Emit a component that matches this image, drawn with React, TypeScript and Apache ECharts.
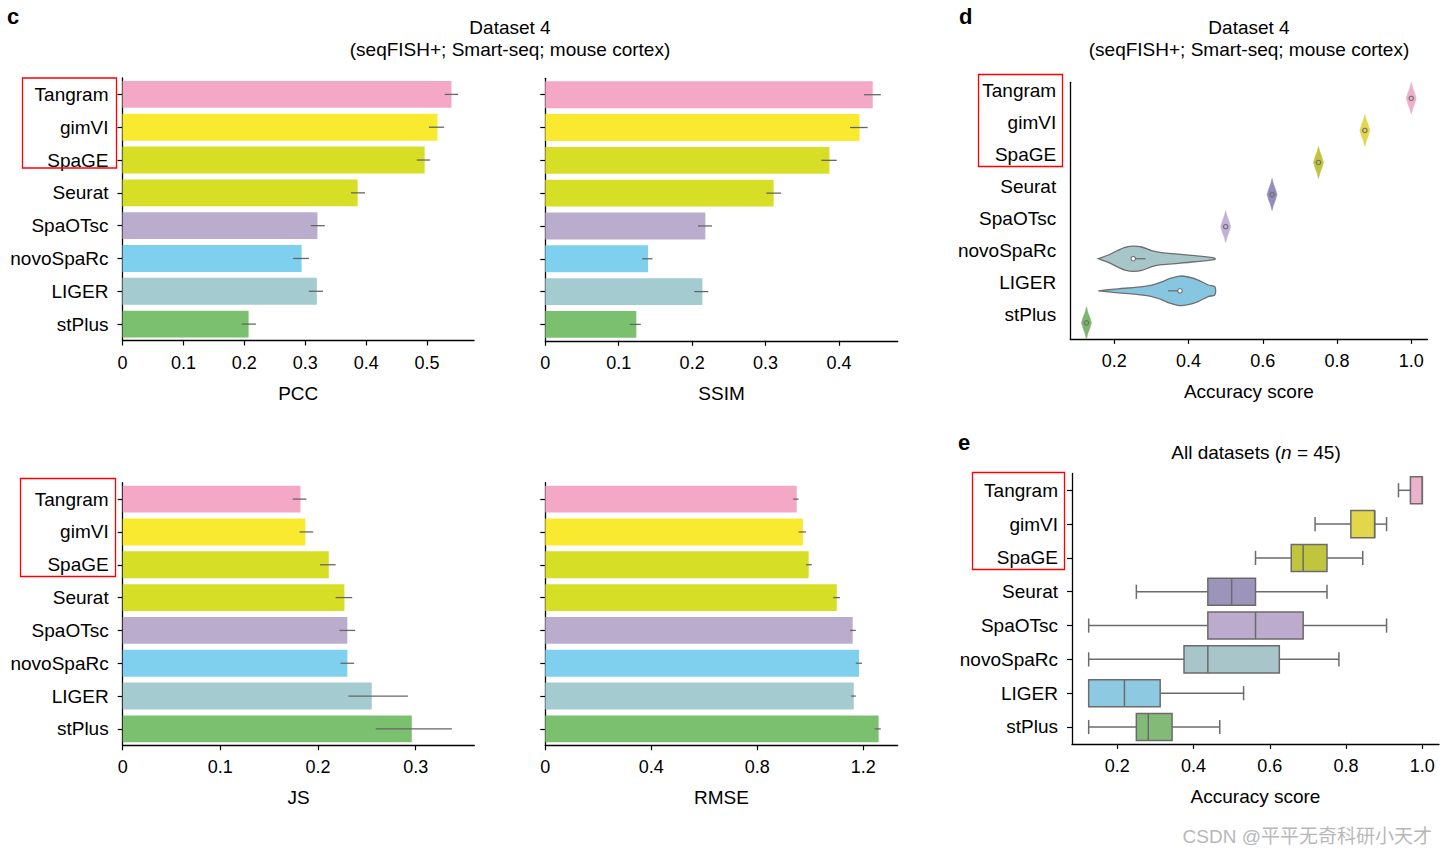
import React, { useEffect, useRef } from "react";
import * as echarts from "echarts";

const methods = ["Tangram", "gimVI", "SpaGE", "Seurat", "SpaOTsc", "novoSpaRc", "LIGER", "stPlus"];
const barColors = ["#F5A8C5", "#F9EA30", "#D6DE26", "#D6DE26", "#BAACCD", "#7ED0EE", "#A3CBD0", "#7BC06E"];

const pccValues = [0.540, 0.517, 0.496, 0.386, 0.320, 0.294, 0.319, 0.207];
const pccLow = [0.529, 0.503, 0.483, 0.375, 0.309, 0.280, 0.306, 0.196];
const pccHigh = [0.551, 0.528, 0.505, 0.398, 0.332, 0.306, 0.329, 0.219];

const ssimValues = [0.446, 0.428, 0.387, 0.311, 0.218, 0.140, 0.214, 0.124];
const ssimLow = [0.434, 0.415, 0.376, 0.301, 0.208, 0.132, 0.203, 0.115];
const ssimHigh = [0.457, 0.439, 0.397, 0.321, 0.227, 0.146, 0.222, 0.130];

const jsValues = [0.182, 0.187, 0.211, 0.227, 0.230, 0.230, 0.255, 0.296];
const jsLow = [0.174, 0.181, 0.202, 0.218, 0.222, 0.223, 0.231, 0.259];
const jsHigh = [0.188, 0.195, 0.218, 0.235, 0.238, 0.237, 0.292, 0.337];

const rmseValues = [0.949, 0.972, 0.994, 1.100, 1.160, 1.184, 1.164, 1.258];
const rmseLow = [0.935, 0.956, 0.984, 1.086, 1.150, 1.172, 1.154, 1.243];
const rmseHigh = [0.956, 0.984, 1.006, 1.112, 1.172, 1.195, 1.172, 1.266];

const pccTicks = [0, 0.1, 0.2, 0.3, 0.4, 0.5];
const ssimTicks = [0, 0.1, 0.2, 0.3, 0.4];
const jsTicks = [0, 0.1, 0.2, 0.3];
const rmseTicks = [0, 0.4, 0.8, 1.2];
const accTicks = [0.2, 0.4, 0.6, 0.8, 1.0];

// Panel d: violins
const violinColors = ["#EDB0CB", "#E3D64A", "#BFC33D", "#958CB9", "#C2B1D6", "#A7C6CA", "#86C6E0", "#7DB56F"];
const diamondCenters = [1.0, 0.875, 0.75, 0.625, 0.5, null, null, 0.125];
const diamondOffsets = [-0.0135, -0.009, -0.004, 0, 0.004, 0.009, 0.0135];
const diamondWidths = [0, 0.35, 0.65, 1, 0.65, 0.35, 0];
const novoProfileX = [0.157, 0.184, 0.211, 0.229, 0.251, 0.274, 0.301, 0.328, 0.372, 0.417, 0.471];
const novoProfileW = [0, 0.23, 0.54, 0.71, 0.79, 0.73, 0.5, 0.375, 0.29, 0.19, 0.04];
const ligerProfileX = [0.157, 0.211, 0.256, 0.301, 0.328, 0.350, 0.377, 0.399, 0.426, 0.453, 0.471];
const ligerProfileW = [0, 0.125, 0.21, 0.36, 0.56, 0.77, 0.92, 0.86, 0.67, 0.36, 0.25];
const violinMedians = [1.0, 0.875, 0.75, 0.625, 0.5, 0.251, 0.377, 0.125];
const violinQ1 = [1.0, 0.875, 0.75, 0.625, 0.5, 0.251, 0.345, 0.125];
const violinQ3 = [1.0, 0.875, 0.75, 0.625, 0.5, 0.284, 0.377, 0.125];

// Panel e: boxes
const boxColors = ["#EBB2CB", "#E2D64B", "#C1C53D", "#9C94BB", "#BCABCD", "#A8C6CA", "#8DCAE2", "#84BA78"];
const boxMin = [0.9375, 0.71875, 0.5625, 0.25, 0.125, 0.125, 0.125, 0.125];
const boxQ1 = [0.96875, 0.8125, 0.65625, 0.4375, 0.4375, 0.375, 0.125, 0.25];
const boxMed = [1.0, 0.875, 0.6875, 0.5, 0.5625, 0.4375, 0.21875, 0.28125];
const boxQ3 = [1.0, 0.875, 0.75, 0.5625, 0.6875, 0.625, 0.3125, 0.34375];
const boxMax = [1.0, 0.90625, 0.84375, 0.75, 0.90625, 0.78125, 0.53125, 0.46875];

const FONT = "'Liberation Sans', Arial, Helvetica, sans-serif";

function valueAxis(gridIndex: number, min: number, max: number, ticks: number[], name: string, fixed1 = false) {
  return {
    type: "value",
    gridIndex,
    min,
    max,
    name,
    nameLocation: "middle",
    nameGap: 43,
    nameTextStyle: { fontSize: 19, color: "#000", fontFamily: FONT },
    axisLine: { show: true, lineStyle: { color: "#000", width: 1.3 } },
    axisTick: { show: true, length: 5, lineStyle: { color: "#000", width: 1.2 }, customValues: ticks },
    axisLabel: {
      fontSize: 18,
      color: "#000",
      fontFamily: FONT,
      margin: 13,
      customValues: ticks,
      formatter: (v: number) => (fixed1 ? v.toFixed(1) : v === 0 ? "0" : String(Math.round(v * 10) / 10)),
    },
    splitLine: { show: false },
  };
}

function catAxis(gridIndex: number, showLabels: boolean, showTicks: boolean, raised = false) {
  const label: any = {
    show: showLabels,
    fontSize: 19,
    color: "#000",
    fontFamily: FONT,
    margin: 14,
  };
  if (raised) {
    label.verticalAlign = "bottom";
    label.lineHeight = 16;
  }
  return {
    type: "category",
    gridIndex,
    data: methods,
    inverse: true,
    axisLine: { show: true, lineStyle: { color: "#000", width: 1.3 } },
    axisTick: { show: showTicks, alignWithLabel: true, length: 5, lineStyle: { color: "#000", width: 1.2 } },
    axisLabel: label,
    splitLine: { show: false },
  };
}

function barSeries(idx: number, values: number[]) {
  return {
    type: "bar",
    xAxisIndex: idx,
    yAxisIndex: idx,
    barWidth: "82%",
    data: values.map((v, i) => ({ value: v, itemStyle: { color: barColors[i] } })),
    z: 2,
  };
}

function errSeries(idx: number, low: number[], high: number[]) {
  return {
    type: "custom",
    xAxisIndex: idx,
    yAxisIndex: idx,
    encode: { x: [1, 2], y: 0 },
    data: low.map((l, i) => [i, l, high[i]]),
    z: 5,
    clip: false,
    renderItem: (params: any, api: any) => {
      const i = api.value(0);
      const a = api.coord([api.value(1), i]);
      const b = api.coord([api.value(2), i]);
      return {
        type: "line",
        shape: { x1: a[0], y1: a[1], x2: b[0], y2: b[1] },
        style: { stroke: "#666666", lineWidth: 1.3 },
      };
    },
  };
}

function violinProfile(i: number): number[][] {
  const c = diamondCenters[i];
  if (c !== null) return diamondOffsets.map((o, k) => [c + o, diamondWidths[k]]);
  if (i === 5) return novoProfileX.map((x, k) => [x, novoProfileW[k]]);
  return ligerProfileX.map((x, k) => [x, ligerProfileW[k]]);
}

export default function App() {
  const ref = useRef<HTMLDivElement>(null);

  useEffect(() => {
    document.body.style.margin = "0";
    if (!ref.current) return;
    const chart = echarts.init(ref.current, undefined, { renderer: "svg" });

    const option: any = {
      animation: false,
      backgroundColor: "#ffffff",
      grid: [
        { left: 122.5, top: 78, width: 351.5, height: 262.5 },
        { left: 545.3, top: 78.3, width: 352.4, height: 262.5 },
        { left: 122.7, top: 482.7, width: 351.6, height: 262.6 },
        { left: 545.3, top: 482.7, width: 352.4, height: 262.6 },
        { left: 1070.2, top: 82.3, width: 357.3, height: 256.6 },
        { left: 1072, top: 473.4, width: 367, height: 270.5 },
      ],
      xAxis: [
        valueAxis(0, 0, 0.577, pccTicks, "PCC"),
        valueAxis(1, 0, 0.48, ssimTicks, "SSIM"),
        valueAxis(2, 0, 0.36, jsTicks, "JS"),
        valueAxis(3, 0, 1.33, rmseTicks, "RMSE"),
        valueAxis(4, 0.08125, 1.04375, accTicks, "Accuracy score", true),
        valueAxis(5, 0.08125, 1.04375, accTicks, "Accuracy score", true),
      ],
      yAxis: [
        catAxis(0, true, true),
        catAxis(1, false, true),
        catAxis(2, true, true),
        catAxis(3, false, true),
        catAxis(4, true, false, true),
        catAxis(5, true, true),
      ],
      series: [
        barSeries(0, pccValues),
        errSeries(0, pccLow, pccHigh),
        barSeries(1, ssimValues),
        errSeries(1, ssimLow, ssimHigh),
        barSeries(2, jsValues),
        errSeries(2, jsLow, jsHigh),
        barSeries(3, rmseValues),
        errSeries(3, rmseLow, rmseHigh),
        {
          type: "custom",
          xAxisIndex: 4,
          yAxisIndex: 4,
          encode: { x: 1, y: 0 },
          data: violinMedians.map((m, i) => [i, m]),
          clip: false,
          z: 3,
          renderItem: (params: any, api: any) => {
            const i = api.value(0);
            const band = api.size([0, 1])[1];
            const hb = band / 2;
            const prof = violinProfile(i);
            const top: number[][] = [];
            const bot: number[][] = [];
            prof.forEach(([x, w]) => {
              const p = api.coord([x, i]);
              top.push([p[0], p[1] - w * hb]);
              bot.push([p[0], p[1] + w * hb]);
            });
            const pts = top.concat(bot.reverse());
            const isDiamond = diamondCenters[i] !== null;
            const children: any[] = [
              {
                type: "polygon",
                shape: { points: pts, smooth: isDiamond ? 0 : 0.3 },
                style: {
                  fill: violinColors[i],
                  stroke: isDiamond ? violinColors[i] : "#6e6e6e",
                  lineWidth: isDiamond ? 0.5 : 1.3,
                },
              },
            ];
            const q1 = api.coord([violinQ1[i], i]);
            const q3 = api.coord([violinQ3[i], i]);
            if (q3[0] - q1[0] > 0.5) {
              children.push({
                type: "line",
                shape: { x1: q1[0], y1: q1[1], x2: q3[0], y2: q3[1] },
                style: { stroke: "#6e6e6e", lineWidth: 1.3 },
              });
            }
            const m = api.coord([violinMedians[i], i]);
            children.push({
              type: "circle",
              shape: { cx: m[0], cy: m[1], r: 2.2 },
              style: { fill: isDiamond ? violinColors[i] : "#ffffff", stroke: "#6e6e6e", lineWidth: 1.1 },
            });
            return { type: "group", children };
          },
        },
        {
          type: "custom",
          xAxisIndex: 5,
          yAxisIndex: 5,
          encode: { x: [1, 2, 3, 4, 5], y: 0 },
          data: boxMin.map((v, i) => [i, v, boxQ1[i], boxMed[i], boxQ3[i], boxMax[i]]),
          clip: false,
          z: 3,
          renderItem: (params: any, api: any) => {
            const i = api.value(0);
            const band = api.size([0, 1])[1];
            const bh = band * 0.4;
            const ch = band * 0.21;
            const pMin = api.coord([api.value(1), i]);
            const pQ1 = api.coord([api.value(2), i]);
            const pMed = api.coord([api.value(3), i]);
            const pQ3 = api.coord([api.value(4), i]);
            const pMax = api.coord([api.value(5), i]);
            const y = pMed[1];
            const st = { stroke: "#6b6b6b", lineWidth: 1.5 };
            const children: any[] = [];
            if (pQ1[0] - pMin[0] > 0.5) {
              children.push({ type: "line", shape: { x1: pMin[0], y1: y, x2: pQ1[0], y2: y }, style: st });
              children.push({ type: "line", shape: { x1: pMin[0], y1: y - ch, x2: pMin[0], y2: y + ch }, style: st });
            }
            if (pMax[0] - pQ3[0] > 0.5) {
              children.push({ type: "line", shape: { x1: pQ3[0], y1: y, x2: pMax[0], y2: y }, style: st });
              children.push({ type: "line", shape: { x1: pMax[0], y1: y - ch, x2: pMax[0], y2: y + ch }, style: st });
            }
            children.push({
              type: "rect",
              shape: { x: pQ1[0], y: y - bh, width: pQ3[0] - pQ1[0], height: 2 * bh },
              style: { fill: boxColors[i], stroke: "#6b6b6b", lineWidth: 1.5 },
            });
            children.push({ type: "line", shape: { x1: pMed[0], y1: y - bh, x2: pMed[0], y2: y + bh }, style: st });
            return { type: "group", children };
          },
        },
      ],
      graphic: [
        { type: "text", x: 7, y: 16, style: { text: "c", fill: "#000", fontSize: 22, fontWeight: "bold", fontFamily: FONT, align: "left", verticalAlign: "middle" } },
        { type: "text", x: 959, y: 16, style: { text: "d", fill: "#000", fontSize: 22, fontWeight: "bold", fontFamily: FONT, align: "left", verticalAlign: "middle" } },
        { type: "text", x: 958, y: 442, style: { text: "e", fill: "#000", fontSize: 22, fontWeight: "bold", fontFamily: FONT, align: "left", verticalAlign: "middle" } },
        { type: "text", x: 510, y: 27, style: { text: "Dataset 4", fill: "#000", fontSize: 19, fontFamily: FONT, align: "center", verticalAlign: "middle" } },
        { type: "text", x: 510, y: 49.5, style: { text: "(seqFISH+; Smart-seq; mouse cortex)", fill: "#000", fontSize: 19, fontFamily: FONT, align: "center", verticalAlign: "middle" } },
        { type: "text", x: 1249, y: 27, style: { text: "Dataset 4", fill: "#000", fontSize: 19, fontFamily: FONT, align: "center", verticalAlign: "middle" } },
        { type: "text", x: 1249, y: 49, style: { text: "(seqFISH+; Smart-seq; mouse cortex)", fill: "#000", fontSize: 19, fontFamily: FONT, align: "center", verticalAlign: "middle" } },
        {
          type: "text",
          x: 1256,
          y: 452,
          style: {
            text: "All datasets ({i|n} = 45)",
            fill: "#000",
            fontSize: 19,
            fontFamily: FONT,
            align: "center",
            verticalAlign: "middle",
            rich: { i: { fontStyle: "italic", fontSize: 19, fontFamily: FONT, fill: "#000" } },
          },
        },
        { type: "rect", shape: { x: 22.5, y: 78, width: 94, height: 90 }, style: { fill: "none", stroke: "#ff0000", lineWidth: 1.3 }, z: 10 },
        { type: "rect", shape: { x: 20.5, y: 478.5, width: 95, height: 98 }, style: { fill: "none", stroke: "#ff0000", lineWidth: 1.3 }, z: 10 },
        { type: "rect", shape: { x: 978.5, y: 74.5, width: 84, height: 92 }, style: { fill: "none", stroke: "#ff0000", lineWidth: 1.3 }, z: 10 },
        { type: "rect", shape: { x: 972.5, y: 472.5, width: 92, height: 97 }, style: { fill: "none", stroke: "#ff0000", lineWidth: 1.3 }, z: 10 },
        {
          type: "text",
          x: 1432,
          y: 836,
          style: {
            text: "CSDN @平平无奇科研小天才",
            fill: "#b8b8b8",
            fontSize: 19,
            fontFamily: "'Liberation Sans', 'Noto Sans CJK SC', sans-serif",
            align: "right",
            verticalAlign: "middle",
          },
        },
      ],
    };

    chart.setOption(option);
    return () => {
      chart.dispose();
    };
  }, []);

  return <div ref={ref} style={{ width: 1447, height: 855 }} />;
}
